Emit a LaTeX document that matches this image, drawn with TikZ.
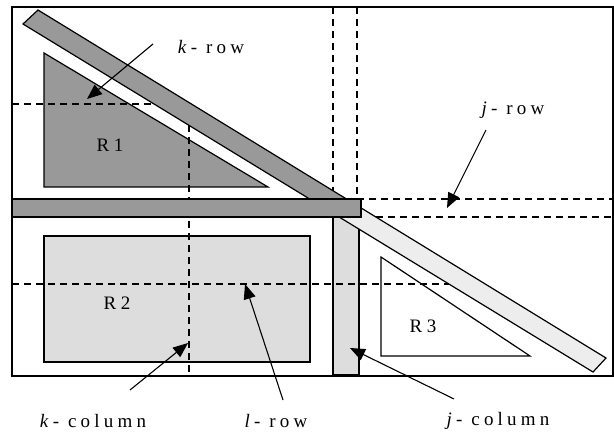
\documentclass[tikz,border=0pt]{standalone}
\usepackage{fontspec}
\setmainfont{Liberation Serif}
\newfontfamily\lblfont{Liberation Serif}[LetterSpace=22]
\usetikzlibrary{arrows.meta,calc}
\definecolor{darkband}{HTML}{999999}
\definecolor{lightbox}{HTML}{DDDDDD}
\definecolor{dotband}{HTML}{EDEDED}
\begin{document}
\begin{tikzpicture}[x=1pt,y=-1pt,
  outline/.style={draw=black, line width=1.2pt, line join=miter},
  dashline/.style={draw=black, line width=2.4pt, dash pattern=on 7pt off 5pt},
  pointer/.style={draw=black, line width=1.1pt, -{Triangle[length=15pt,width=12pt]}},
  lbl/.style={font=\lblfont\fontsize{19}{22}\selectfont, inner sep=0pt},
  rlbl/.style={font=\fontsize{19}{22}\selectfont, inner sep=0pt}]
\useasboundingbox (0,0) rectangle (614,433);
% frame
\draw[outline, fill=white] (12,7) rectangle (613,376);
% regions
\draw[outline, fill=darkband] (44,53) -- (44,187) -- (268,187) -- cycle;
\draw[outline, fill=lightbox] (44,236) rectangle (310,362);
\draw[outline, fill=white] (381,257) -- (381,356) -- (530,356) -- cycle;
\draw[outline, fill=lightbox] (333,217) rectangle (359,375);
% dashed lines
\draw[dashline] (12,104) -- (154,104);
\draw[dashline] (189,125) -- (189,375);
\draw[dashline] (12,284) -- (452,284);
\draw[dashline] (333,7) -- (333,192);
\draw[dashline] (357,7) -- (357,199) -- (613,199) -- (613,217) -- (370,217);
% diagonal band
\coordinate (bUL) at (23,24);
\coordinate (bUT) at (38,10);
\coordinate (bRT) at (606,358);
\coordinate (bRB) at (593,372);
\coordinate (sU) at ($(bUT)!0.5431!(bRT)$);
\coordinate (sL) at ($(bUL)!0.5029!(bRB)$);
\draw[outline, fill=darkband] (bUL) -- (bUT) -- (sU) -- (sL) -- cycle;
\draw[outline, fill=dotband] (sL) -- (sU) -- (bRT) -- (bRB) -- cycle;
% horizontal bar
\draw[outline, fill=darkband] (12,199) rectangle (361,217);
% labels
\node[rlbl] (r1) at (110,145) {R 1};
\node[rlbl] (r2) at (117,303) {R 2};
\node[rlbl] (r3) at (423,326) {R 3};
\node[lbl] (krow) at (211,47) {\textit{k}- row};
\node[lbl] (jrow) at (513,110) {\textit{j}- row};
\node[lbl] (lrow) at (276,421) {\textit{l}- row};
\node[lbl] (kcol) at (93,421) {\textit{k}- column};
\node[lbl] (jcol) at (498,421) {\textit{j}- column};
% arrow ends
\coordinate (krowS) at (153,44);  \coordinate (krowE) at (87,99);
\coordinate (jrowS) at (486,130); \coordinate (jrowE) at (447,208);
\coordinate (lrowS) at (283,400); \coordinate (lrowE) at (245,284);
\coordinate (kcolS) at (130,390); \coordinate (kcolE) at (188,343);
\coordinate (jcolS) at (454,399); \coordinate (jcolE) at (350,348);
\draw[pointer] (krowS) -- (krowE);
\draw[pointer] (jrowS) -- (jrowE);
\draw[pointer] (lrowS) -- (lrowE);
\draw[pointer] (kcolS) -- (kcolE);
\draw[pointer] (jcolS) -- (jcolE);
\end{tikzpicture}
\end{document}
